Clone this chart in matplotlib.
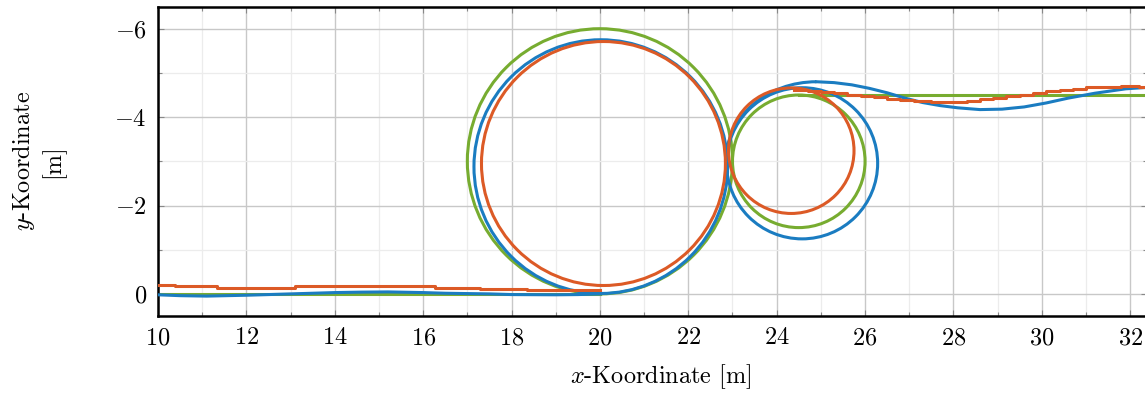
import numpy as np
import matplotlib.pyplot as plt
from matplotlib.patches import Circle, Arc
from matplotlib.ticker import MultipleLocator

plt.rcParams['font.family'] = 'cmr10'
plt.rcParams['mathtext.fontset'] = 'cm'
plt.rcParams['axes.formatter.use_mathtext'] = True
plt.rcParams['font.size'] = 17.5

# Colors (MATLAB default order)
c_blue = '#1a7cc1'
c_orange = '#dc5a26'
c_green = '#77AC30'

# Reference path: straight in, big loop, small loop, straight out
ref_in_x = [10.0, 20.0]
ref_in_y = [0.0, 0.0]
ref_loop_cx = [20.0, 24.5]
ref_loop_cy = [-3.0, -3.0]
ref_loop_r = [3.0, 1.5]
ref_out_x = [24.5, 32.5]
ref_out_y = [-4.5, -4.5]

# Simulated vehicle (smooth)
sim_in_x = [10.0, 10.5, 11.1, 12.0, 13.0, 14.0, 14.6, 15.2, 16.0, 16.5, 17.5, 18.0, 19.0, 19.5, 20.02]
sim_in_y = [0.02, 0.04, 0.05, 0.03, 0.0, -0.03, -0.04, -0.045, -0.03, -0.015, 0.0, 0.015, 0.02, 0.015, 0.0]
sim_loop_cx = [20.02, 24.575]
sim_loop_cy = [-2.88, -2.955]
sim_loop_r = [2.87, 1.71]
sim_arc_c = (24.9, -3.0)
sim_arc_w, sim_arc_h = 4.1, 3.6
sim_out_x = [24.9, 25.3, 25.7, 26.1, 26.5, 26.9, 27.3, 27.7, 28.1, 28.6, 29.1, 29.6, 30.1, 30.6, 31.2, 31.9, 32.5]
sim_out_y = [-4.80, -4.78, -4.73, -4.65, -4.55, -4.43, -4.33, -4.26, -4.21, -4.17, -4.18, -4.23, -4.32, -4.43, -4.54, -4.64, -4.68]

# Measured vehicle (quantised steps)
meas_in_x = [10.0, 10.38, 11.33, 13.1, 16.27, 17.29, 18.34, 20.0]
meas_in_y = [-0.20, -0.17, -0.14, -0.175, -0.14, -0.11, -0.09, -0.09]
meas_loop_cx = [20.08, 24.33]
meas_loop_cy = [-2.95, -3.24]
meas_loop_r = [2.76, 1.42]
meas_out_x = [24.4, 24.7, 25.0, 25.3, 25.6, 25.9, 26.2, 26.5, 26.8, 27.1, 27.5, 28.0, 28.3, 28.6,
              28.9, 29.2, 29.5, 29.8, 30.1, 30.4, 30.7, 31.0, 31.4, 31.8, 32.2, 32.5]
meas_out_y = [-4.62, -4.60, -4.57, -4.54, -4.51, -4.48, -4.45, -4.42, -4.39, -4.36, -4.34, -4.34,
              -4.37, -4.40, -4.44, -4.47, -4.51, -4.55, -4.58, -4.61, -4.64, -4.67, -4.69, -4.70,
              -4.68, -4.66]

lw = 2.2

fig = plt.figure(figsize=(11.45, 3.94), dpi=100)
ax = fig.add_axes([158 / 1145, 78 / 394, 989 / 1145, 309.4 / 394])

# reference path
ax.plot(ref_in_x, ref_in_y, color=c_green, lw=lw, zorder=2)
for cx, cy, r in zip(ref_loop_cx, ref_loop_cy, ref_loop_r):
    ax.add_patch(Circle((cx, cy), r, fill=False, ec=c_green, lw=lw, zorder=2))
ax.plot(ref_out_x, ref_out_y, color=c_green, lw=lw, zorder=2)

# simulation
ax.plot(sim_in_x, sim_in_y, color=c_blue, lw=lw, zorder=3)
for cx, cy, r in zip(sim_loop_cx, sim_loop_cy, sim_loop_r):
    ax.add_patch(Circle((cx, cy), r, fill=False, ec=c_blue, lw=lw, zorder=3))
ax.add_patch(Arc(sim_arc_c, sim_arc_w, sim_arc_h, theta1=180, theta2=270,
                 ec=c_blue, lw=lw, zorder=3))
ax.plot(sim_out_x, sim_out_y, color=c_blue, lw=lw, zorder=3)

# measurement
ax.plot(meas_in_x, meas_in_y, color=c_orange, lw=lw, drawstyle='steps-post', zorder=4)
for cx, cy, r in zip(meas_loop_cx, meas_loop_cy, meas_loop_r):
    ax.add_patch(Circle((cx, cy), r, fill=False, ec=c_orange, lw=lw, zorder=4))
ax.plot(meas_out_x, meas_out_y, color=c_orange, lw=lw, drawstyle='steps-post', zorder=4)

ax.set_xlim(10, 32.38)
ax.set_ylim(0.5, -6.5)

ax.xaxis.set_major_locator(MultipleLocator(2))
ax.xaxis.set_minor_locator(MultipleLocator(1))
ax.yaxis.set_major_locator(MultipleLocator(2))
ax.yaxis.set_minor_locator(MultipleLocator(1))

ax.set_axisbelow(True)
ax.grid(True, which='major', color='#c8c8c8', lw=1.0)
ax.grid(True, which='minor', color='#ececec', lw=0.9)
ax.tick_params(which='both', direction='in', top=True, right=True, color='#888888', width=0.8)
ax.tick_params(which='major', length=4.5, pad=8)
ax.tick_params(which='minor', length=3)

for s in ax.spines.values():
    s.set_linewidth(1.8)
    s.set_color('black')

ax.set_xlabel('$x$-Koordinate [m]')
ax.xaxis.set_label_coords(0.508, -0.15)
ax.set_ylabel('$y$-Koordinate\n[m]', multialignment='center')
ax.yaxis.set_label_coords(-0.094, 0.5)

fig.savefig('out.png', dpi=100)
